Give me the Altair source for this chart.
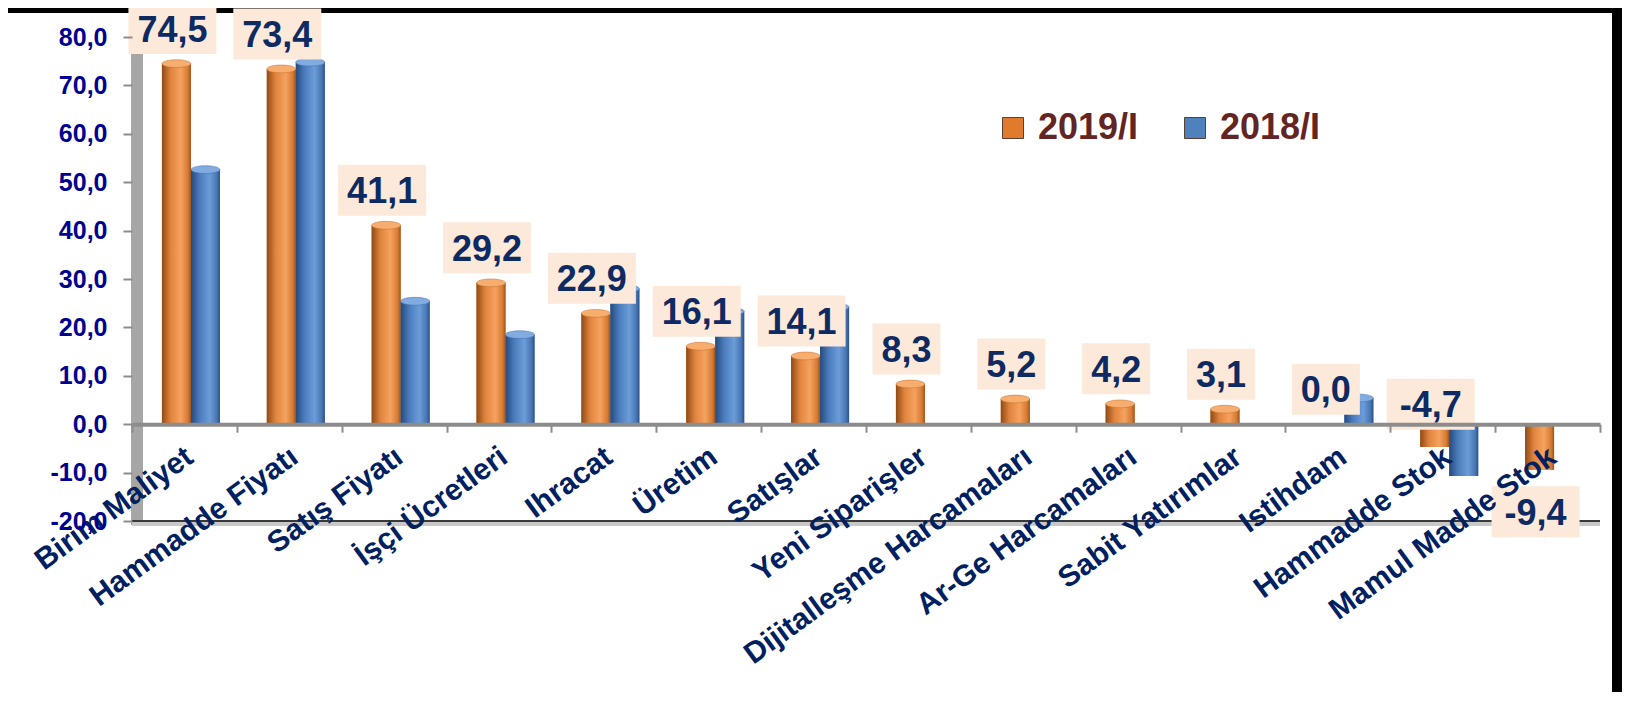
import altair as alt
import pandas as pd

# ---------------- data ----------------
categories = ["Birim Maliyet", "Hammadde Fiyatı", "Satış Fiyatı", "İşçi Ücretleri",
              "Ihracat", "Üretim", "Satışlar", "Yeni Siparişler",
              "Dijitalleşme Harcamaları", "Ar-Ge Harcamaları", "Sabit Yatırımlar",
              "Istihdam", "Hammadde Stok", "Mamul Madde Stok"]
v2019 = [74.5, 73.4, 41.1, 29.2, 22.9, 16.1, 14.1, 8.3, 5.2, 4.2, 3.1, 0.0, -4.7, -9.4]
v2018 = [52.6, 74.8, 25.4, 18.5, 28.0, 23.3, 24.2, None, None, None, None, 5.4, -10.7, None]
series = ["2019/I", "2018/I"]
y_ticks = [-20, -10, 0, 10, 20, 30, 40, 50, 60, 70, 80]

rows = []
for c, a, b in zip(categories, v2019, v2018):
    rows.append({"cat": c, "series": series[0], "v": a})
    if b is not None:
        rows.append({"cat": c, "series": series[1], "v": b})
df = pd.DataFrame(rows)
df19 = df[df.series == series[0]]
df18 = df[df.series == series[1]]

# ---------------- layout ----------------
W, H = 1468, 484
PL, PT = 124, 29
TOTAL_W, TOTAL_H = 1614, 684
PR, PB = TOTAL_W - PL - W, TOTAL_H - PT - H
YMIN, YMAX = -20, 80
U = (YMAX - YMIN) / H  # data units per pixel

FONT = "Liberation Sans"
NAVY = "#0d2a63"
FMT = "replace(replace(format({v}, '.1f'), '.', ','), '\u2212', '-')"

orange_grad = {"gradient": "linear", "x1": 0, "x2": 1, "y1": 0, "y2": 0,
               "stops": [{"offset": 0, "color": "#8f4a14"},
                         {"offset": 0.3, "color": "#e0843d"},
                         {"offset": 0.65, "color": "#f6a25f"},
                         {"offset": 0.9, "color": "#d57a33"},
                         {"offset": 1, "color": "#9c5319"}]}
blue_grad = {"gradient": "linear", "x1": 0, "x2": 1, "y1": 0, "y2": 0,
             "stops": [{"offset": 0, "color": "#264a7c"},
                       {"offset": 0.3, "color": "#4a7cbd"},
                       {"offset": 0.65, "color": "#6c9dd9"},
                       {"offset": 0.9, "color": "#4675b2"},
                       {"offset": 1, "color": "#2a5088"}]}

x_enc = alt.X("cat:N", sort=categories,
              scale=alt.Scale(domain=categories, paddingInner=0, paddingOuter=0),
              axis=alt.Axis(title=None, orient="bottom", offset=-(0 - YMIN) / (YMAX - YMIN) * H,
                            domainColor="#8c8c8c", domainWidth=4,
                            tickBand="extent", tickSize=8, tickColor="#8c8c8c", tickWidth=2,
                            labelAngle=-36, labelAlign="right", labelBaseline="top",
                            labelFont=FONT, labelFontSize=30, labelFontWeight="bold",
                            labelColor="#002060", labelPadding=9, labelOffset=-4,
                            labelLimit=600,
                            labelOverlap=False, labelBound=False, labelFlush=False,
                            grid=False, zindex=1))
y_axis = alt.Axis(title=None, values=y_ticks, grid=False, domain=False,
                  labelExpr=FMT.format(v="datum.value"),
                  labelFont=FONT, labelFontSize=25, labelFontWeight="bold",
                  labelColor="#000090", labelPadding=16,
                  tickSize=9, tickColor="#8c8c8c", tickWidth=2, zindex=1)
y_scale = alt.Scale(domain=[YMIN, YMAX], nice=False, zero=False)

def y_enc(field):
    return alt.Y(field, scale=y_scale, axis=y_axis)

one = pd.DataFrame({"d": [0]})

# white frame inside black border
frame = alt.Chart(one).mark_rect(color="white").encode(
    x=alt.value(-PL), x2=alt.value(W + 12), y=alt.value(-24), y2=alt.value(H + PB))
# left 3D wall
wall = alt.Chart(one).mark_rect(color="#a6a6a6").encode(
    x=alt.value(-1), x2=alt.value(11), y=alt.value(-4), y2=alt.value(H + 4))
floor_shadow = alt.Chart(one).mark_rule(color="#c8c8c8", strokeWidth=4).encode(
    x=alt.value(0), x2=alt.value(W), y=alt.value(H + 3))
floor = alt.Chart(one).mark_rule(color="#3a3a3a", strokeWidth=2).encode(
    x=alt.value(0), x2=alt.value(W), y=alt.value(H))

BW = 29
OFF19, OFF18 = -8, 21

color_enc = alt.Color("series:N",
                      scale=alt.Scale(domain=series, range=["#e07b2e", "#4f81bd"]),
                      legend=alt.Legend(title=None, orient="none", legendX=863, legendY=73,
                                        direction="horizontal", symbolType="square",
                                        symbolSize=441, symbolStrokeColor="#5a4030",
                                        symbolStrokeWidth=1, labelFont=FONT,
                                        labelFontSize=36, labelFontWeight="bold",
                                        labelColor="#632523", columnPadding=38,
                                        labelOffset=7, padding=0))

solid19 = alt.Chart(df19).mark_bar(width=BW, xOffset=OFF19).encode(
    x=x_enc, y=y_enc("v:Q"), color=color_enc)
solid18 = alt.Chart(df18).mark_bar(width=BW, xOffset=OFF18).encode(
    x=x_enc, y=y_enc("v:Q"), color=color_enc)
grad19 = alt.Chart(df19).mark_bar(width=BW, xOffset=OFF19, fill=orange_grad).encode(
    x=x_enc, y=y_enc("v:Q"))
grad18 = alt.Chart(df18).mark_bar(width=BW, xOffset=OFF18, fill=blue_grad).encode(
    x=x_enc, y=y_enc("v:Q"))

ellipse = "M-1,0 A1,0.27 0 1,1 1,0 A1,0.27 0 1,1 -1,0 Z"
cap19 = alt.Chart(df19).transform_filter("datum.v > 0").mark_point(
    shape=ellipse, size=BW * BW, filled=True, fill="#f7ad6e", opacity=1,
    stroke="#c86f2a", strokeWidth=0.5, xOffset=OFF19).encode(x=x_enc, y=y_enc("v:Q"))
cap18 = alt.Chart(df18).transform_filter("datum.v > 0").mark_point(
    shape=ellipse, size=BW * BW, filled=True, fill="#82acdf", opacity=1,
    stroke="#3f6da8", strokeWidth=0.5, xOffset=OFF18).encode(x=x_enc, y=y_enc("v:Q"))

# value labels (2019/I) with peach boxes
lab_base = alt.Chart(df19).transform_calculate(
    lbl=FMT.format(v="datum.v"),
    ly=f"datum.v >= 0 ? datum.v + 35*{U} : (datum.v > -5 ? 20*{U} : datum.v - 42*{U})"
).transform_calculate(n="length(datum.lbl)")

def box_path(w, h):
    hh = h / w
    return f"M-1,-{hh:.4f} L1,-{hh:.4f} L1,{hh:.4f} L-1,{hh:.4f} Z"

box3 = lab_base.transform_filter("datum.n <= 3").mark_point(
    shape=box_path(68, 51), size=68 * 68, filled=True, fill="#FDE9D9", opacity=1,
    strokeWidth=0, xOffset=-12).encode(x=x_enc, y=y_enc("ly:Q"))
box4 = lab_base.transform_filter("datum.n > 3").mark_point(
    shape=box_path(88, 51), size=88 * 88, filled=True, fill="#FDE9D9", opacity=1,
    strokeWidth=0, xOffset=-12).encode(x=x_enc, y=y_enc("ly:Q"))
labels = lab_base.mark_text(font=FONT, fontSize=36, fontWeight="bold", color=NAVY,
                            dx=-12, dy=2, align="center", baseline="middle").encode(
    x=x_enc, y=y_enc("ly:Q"), text="lbl:N")

chart = alt.layer(
    frame, wall, floor_shadow, floor,
    solid19, solid18, grad19, grad18, cap19, cap18,
    box3, box4, labels
).properties(
    width=W, height=H,
    padding={"left": PL, "top": PT, "right": PR, "bottom": PB},
    autosize=alt.AutoSizeParams(type="none"),
    background="black"
).configure_view(stroke=None)

chart.save("out.html", embed_options={"renderer": "svg", "actions": False})
